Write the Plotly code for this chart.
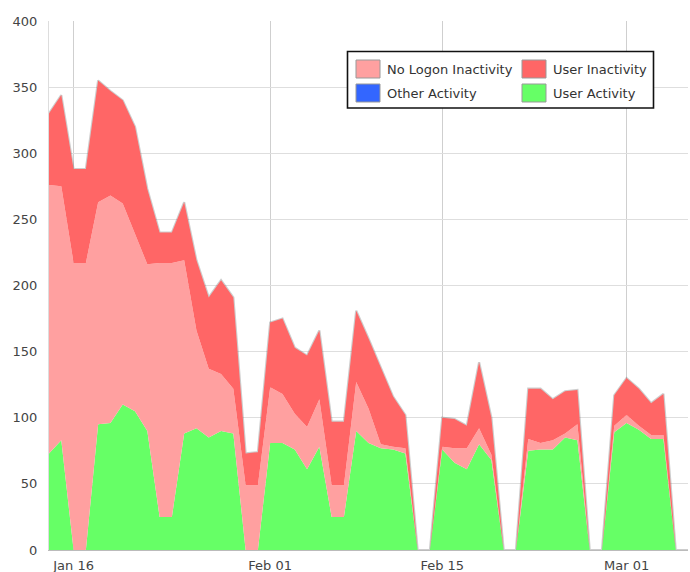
import numpy as np
import pandas as pd
import plotly.graph_objects as go

# ---- data ----
dates = pd.date_range("2012-01-14", "2012-03-06", freq="D")

user_activity = [73, 83, 0, 0, 95, 96, 110, 105, 90, 25, 25, 88, 92, 85, 90, 88, 0, 0,
                 81, 81, 76, 61, 78, 25, 25, 90, 81, 77, 76, 73, 0, 0, 76, 66, 61, 80,
                 68, 0, 0, 75, 76, 76, 85, 83, 0, 0, 89, 96, 91, 84, 84, 0, 0]
other_activity = [0, 0, 0, 0, 0, 0, 0, 0, 0, 0, 0, 0, 0, 0, 0, 0, 0, 0,
                  0, 0, 0, 0, 0, 0, 0, 0, 0, 0, 0, 0, 0, 0, 0, 0, 0, 0,
                  0, 0, 0, 0, 0, 0, 0, 0, 0, 0, 0, 0, 0, 0, 0, 0, 0]
no_logon_inactivity = [203, 192, 217, 217, 168, 172, 152, 134, 126, 192, 192, 131, 74, 52, 43, 34, 49, 49,
                       42, 37, 27, 32, 36, 24, 24, 37, 26, 3, 2, 4, 0, 0, 2, 11, 16, 12,
                       4, 0, 0, 9, 5, 7, 3, 12, 0, 0, 5, 6, 3, 3, 3, 0, 0]
user_inactivity = [54, 69, 71, 71, 92, 79, 78, 81, 57, 23, 23, 44, 53, 54, 71, 69, 24, 25,
                   49, 57, 50, 54, 52, 48, 48, 54, 53, 58, 38, 25, 0, 0, 22, 22, 17, 50,
                   28, 0, 0, 38, 41, 31, 32, 26, 0, 0, 23, 28, 28, 24, 31, 0, 0]

y_ticks = [0, 50, 100, 150, 200, 250, 300, 350, 400]
x_tick_dates = ["2012-01-16", "2012-02-01", "2012-02-15", "2012-03-01"]
x_tick_labels = ["Jan 16", "Feb 01", "Feb 15", "Mar 01"]

series_names = ["No Logon Inactivity", "User Inactivity", "Other Activity", "User Activity"]
colors = {
    "User Activity": "#66FF66",
    "Other Activity": "#3366FF",
    "No Logon Inactivity": "#FFA0A0",
    "User Inactivity": "#FF6666",
}

W, H = 690, 572
L, R, T, B = 49, 2, 21, 22
FONT = "DejaVu Sans"

fig = go.Figure()

total = (np.array(user_activity) + np.array(other_activity)
         + np.array(no_logon_inactivity) + np.array(user_inactivity))

# faint shadow outline under the stack
fig.add_trace(go.Scatter(x=dates, y=total, mode="lines",
                         line=dict(color="rgba(90,90,90,0.3)", width=2.2),
                         showlegend=False, hoverinfo="skip"))

for name, vals in [("User Activity", user_activity),
                   ("Other Activity", other_activity),
                   ("No Logon Inactivity", no_logon_inactivity),
                   ("User Inactivity", user_inactivity)]:
    fig.add_trace(go.Scatter(x=dates, y=vals, name=name, mode="lines",
                             stackgroup="one", line=dict(width=0, color=colors[name]),
                             fillcolor=colors[name], showlegend=False))

fig.update_layout(
    width=W, height=H,
    margin=dict(l=L, r=R, t=T, b=B, pad=0, autoexpand=False),
    paper_bgcolor="white", plot_bgcolor="white",
    font=dict(family=FONT, size=13, color="#444"),
    showlegend=False,
)
fig.update_xaxes(
    type="date", range=[dates[0], dates[-1]],
    tickvals=x_tick_dates, ticktext=x_tick_labels,
    showgrid=True, gridcolor="#cfcfcf", gridwidth=1,
    showline=True, linecolor="#bbbbbb", linewidth=1,
    zeroline=False, ticks="", ticklabelstandoff=3, automargin=False,
    tickfont=dict(family=FONT, size=13, color="#444"),
)
fig.update_yaxes(
    range=[0, 400], tickvals=y_ticks,
    showgrid=True, gridcolor="#dedede", gridwidth=1,
    showline=True, linecolor="#dddddd", linewidth=1,
    zeroline=False, ticks="", ticklabelstandoff=8, automargin=False,
    tickfont=dict(family=FONT, size=13, color="#444"),
)

# ---- custom legend (box, swatches, labels) ----
pw, ph = W - L - R, H - T - B
def px(x):
    return (x - L) / pw
def py(y):
    return (H - B - y) / ph

shapes = [dict(type="rect", xref="paper", yref="paper",
               x0=px(347.5), x1=px(653.5), y0=py(108), y1=py(51.5),
               line=dict(color="#111111", width=1.6), fillcolor="white", layer="above")]
annotations = []
legend_pos = {
    "No Logon Inactivity": (356, 60),
    "User Inactivity": (522, 60),
    "Other Activity": (356, 84),
    "User Activity": (522, 84),
}
for name in series_names:
    x0, y0 = legend_pos[name]
    shapes.append(dict(type="rect", xref="paper", yref="paper",
                       x0=px(x0), x1=px(x0 + 24), y0=py(y0 + 18), y1=py(y0),
                       line=dict(color="#999999", width=1), fillcolor=colors[name], layer="above"))
    annotations.append(dict(xref="paper", yref="paper", x=px(x0 + 29), y=py(y0 + 9.5),
                            text=name, showarrow=False, xanchor="left", yanchor="middle",
                            font=dict(family=FONT, size=13, color="#333")))

fig.update_layout(shapes=shapes, annotations=annotations)

fig.write_html("out.html", config={"displayModeBar": False},
               post_script="document.body.style.margin='0';document.body.style.overflow='hidden';")
